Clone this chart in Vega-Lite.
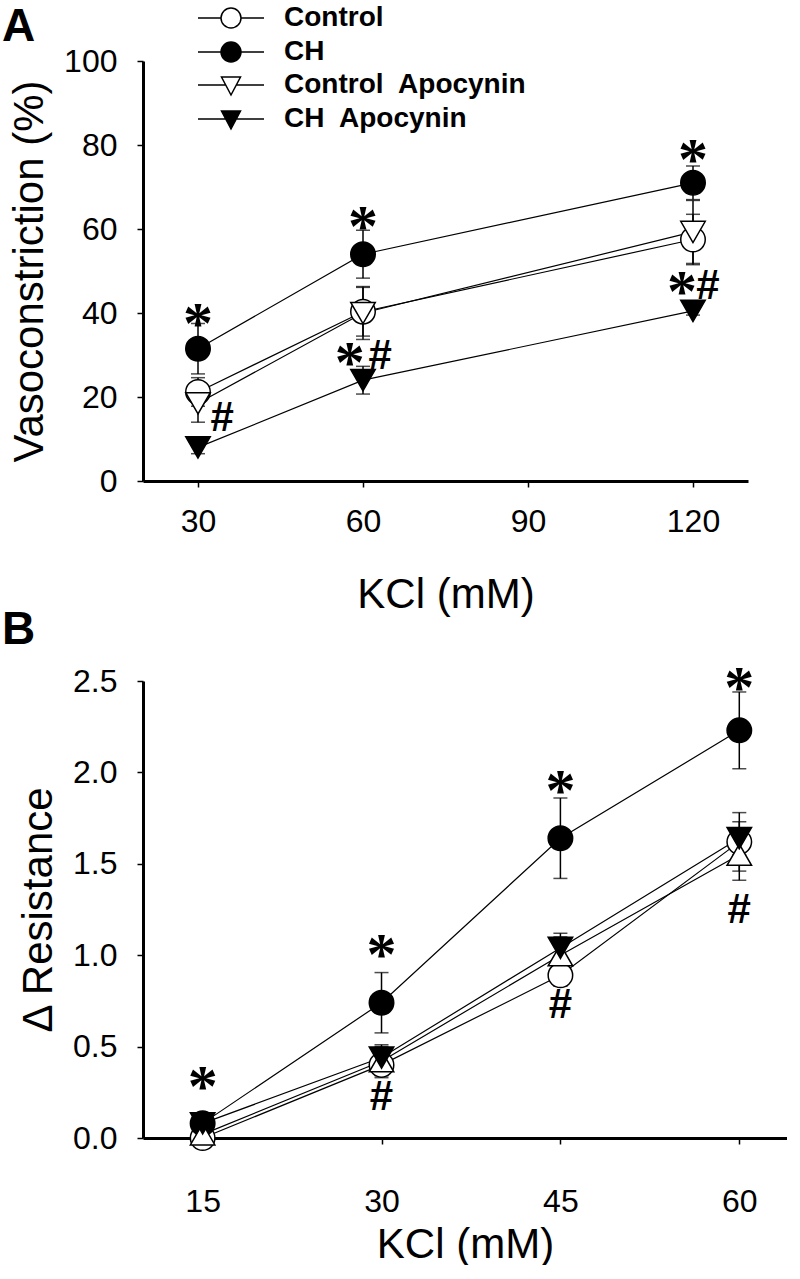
{
  "$schema": "https://vega.github.io/schema/vega-lite/v6.json",
  "background": "white",
  "padding": {"left": 2, "top": 4, "right": 0, "bottom": 0},
  "spacing": -8,
  "config": {
    "view": {"stroke": null},
    "font": "Liberation Sans",
    "axis": {
      "grid": false,
      "domainColor": "black",
      "domainWidth": 3,
      "tickColor": "black",
      "tickWidth": 1.5,
      "tickSize": 6,
      "labelFont": "Liberation Sans",
      "labelFontSize": 32,
      "labelColor": "black",
      "titleFont": "Liberation Sans",
      "titleFontSize": 42,
      "titleFontWeight": "normal",
      "titleColor": "black"
    },
    "legend": {
      "orient": "none", "title": null, "padding": 0,
      "labelFont": "Liberation Sans", "labelFontSize": 28, "labelFontWeight": "bold", "labelColor": "black", "labelLimit": 0,
      "symbolSize": 400, "symbolStrokeWidth": 1.5, "symbolStrokeColor": "black", "rowPadding": 6, "labelOffset": 39
    },
    "title": {"font": "Liberation Sans", "fontSize": 46, "fontWeight": "bold", "color": "black", "anchor": "start", "frame": "group"}
  },
  "datasets": {
    "a": [
      {"kcl": 30, "series": "Control", "v": 21.2, "se": 3.4},
      {"kcl": 60, "series": "Control", "v": 40.3, "se": 5.8},
      {"kcl": 120, "series": "Control", "v": 57.5, "se": 6.0},
      {"kcl": 30, "series": "CH", "v": 31.5, "se": 6.0},
      {"kcl": 60, "series": "CH", "v": 54.0, "se": 5.7},
      {"kcl": 120, "series": "CH", "v": 71.0, "se": 4.0},
      {"kcl": 30, "series": "Control Apocynin", "v": 18.5, "se": 4.5},
      {"kcl": 60, "series": "Control Apocynin", "v": 40.0, "se": 6.3},
      {"kcl": 120, "series": "Control Apocynin", "v": 59.3, "se": 7.5},
      {"kcl": 30, "series": "CH Apocynin", "v": 8.0, "se": 1.5},
      {"kcl": 60, "series": "CH Apocynin", "v": 24.0, "se": 3.3},
      {"kcl": 120, "series": "CH Apocynin", "v": 40.5, "se": 1.0}
    ],
    "b": [
      {"kcl": 15, "series": "Control", "v": 0.0, "se": 0.02},
      {"kcl": 30, "series": "Control", "v": 0.40, "se": 0.06},
      {"kcl": 45, "series": "Control", "v": 0.89, "se": 0.06},
      {"kcl": 60, "series": "Control", "v": 1.62, "se": 0.16},
      {"kcl": 15, "series": "CH", "v": 0.08, "se": 0.03},
      {"kcl": 30, "series": "CH", "v": 0.74, "se": 0.165},
      {"kcl": 45, "series": "CH", "v": 1.64, "se": 0.22},
      {"kcl": 60, "series": "CH", "v": 2.23, "se": 0.21},
      {"kcl": 15, "series": "Control Apocynin", "v": 0.02, "se": 0.02},
      {"kcl": 30, "series": "Control Apocynin", "v": 0.42, "se": 0.09},
      {"kcl": 45, "series": "Control Apocynin", "v": 1.0, "se": 0.1},
      {"kcl": 60, "series": "Control Apocynin", "v": 1.55, "se": 0.14},
      {"kcl": 15, "series": "CH Apocynin", "v": 0.08, "se": 0.03},
      {"kcl": 30, "series": "CH Apocynin", "v": 0.44, "se": 0.06},
      {"kcl": 45, "series": "CH Apocynin", "v": 1.04, "se": 0.08},
      {"kcl": 60, "series": "CH Apocynin", "v": 1.64, "se": 0.09}
    ],
    "starA": [
      {"kcl": 30, "v": 40, "sym": "*"},
      {"kcl": 60, "v": 63, "sym": "*"},
      {"kcl": 120, "v": 79, "sym": "*"},
      {"kcl": 57.6, "v": 30.7, "sym": "*"},
      {"kcl": 118, "v": 47.6, "sym": "*"}
    ],
    "hashA": [
      {"kcl": 34.4, "v": 15.5, "sym": "#"},
      {"kcl": 63.1, "v": 30.2, "sym": "#"},
      {"kcl": 122.7, "v": 46.9, "sym": "#"}
    ],
    "starB": [
      {"kcl": 15, "v": 0.34, "sym": "*"},
      {"kcl": 30, "v": 1.06, "sym": "*"},
      {"kcl": 45, "v": 1.96, "sym": "*"},
      {"kcl": 60, "v": 2.52, "sym": "*"}
    ],
    "hashB": [
      {"kcl": 30, "v": 0.235, "sym": "#"},
      {"kcl": 45, "v": 0.74, "sym": "#"},
      {"kcl": 60, "v": 1.26, "sym": "#"}
    ]
  },
  "vconcat": [
    {
      "width": 605,
      "height": 420,
      "title": {"text": "A", "dx": -141, "offset": -83, "baseline": "alphabetic"},
      "resolve": {"scale": {"fill": "independent"}, "legend": {"fill": "independent"}},
      "layer": [
        {
          "data": {"name": "a"},
          "mark": {"type": "errorbar", "ticks": {"size": 14, "thickness": 1.5, "color": "black"}, "thickness": 1.5, "color": "black"},
          "encoding": {
            "x": {"field": "kcl", "type": "quantitative", "scale": {"domain": [20, 130], "nice": false, "zero": false}, "axis": {"title": "KCl (mM)", "values": [30, 60, 90, 120], "labelPadding": 19, "titlePadding": 37}},
            "y": {"field": "v", "type": "quantitative", "scale": {"domain": [0, 100], "nice": false}, "axis": {"title": "Vasoconstriction (%)", "values": [0, 20, 40, 60, 80, 100], "labelPadding": 20, "titlePadding": 12}},
            "yError": {"field": "se"}
          }
        },
        {
          "data": {"name": "a"},
          "mark": {"type": "line", "color": "black", "strokeWidth": 1.2},
          "encoding": {
            "x": {"field": "kcl", "type": "quantitative"},
            "y": {"field": "v", "type": "quantitative"},
            "detail": {"field": "series"}
          }
        },
        {
          "data": {"name": "a"},
          "transform": [{"filter": "datum.series == 'Control' || datum.series == 'CH'"}],
          "mark": {"type": "point", "shape": "circle", "filled": true, "size": 600, "stroke": "black", "strokeWidth": 1.5, "opacity": 1},
          "encoding": {
            "x": {"field": "kcl", "type": "quantitative"},
            "y": {"field": "v", "type": "quantitative"},
            "fill": {
              "field": "series", "type": "nominal",
              "scale": {"domain": ["Control", "CH"], "range": ["white", "black"]},
              "legend": {
                "legendX": 74, "legendY": -57,
                "symbolType": "M-3.3,0H-1M1,0H3.3M1,0A1,1,0,1,1,-1,0A1,1,0,1,1,1,0"
              }
            }
          }
        },
        {
          "data": {"name": "a"},
          "transform": [{"filter": "datum.series == 'Control Apocynin' || datum.series == 'CH Apocynin'"}],
          "mark": {"type": "point", "shape": "triangle-down", "filled": true, "size": 600, "stroke": "black", "strokeWidth": 1.5, "opacity": 1},
          "encoding": {
            "x": {"field": "kcl", "type": "quantitative"},
            "y": {"field": "v", "type": "quantitative"},
            "fill": {
              "field": "series", "type": "nominal",
              "scale": {"domain": ["Control Apocynin", "CH Apocynin"], "range": ["white", "black"]},
              "legend": {
                "legendX": 74, "legendY": 10,
                "labelExpr": "replace(datum.label, ' Apocynin', '\u00a0 Apocynin')",
                "symbolType": "M-3.3,0H-0.53M0.53,0H3.3M-0.95,-0.8H0.95L0,1Z"
              }
            }
          }
        },
        {
          "data": {"name": "starA"},
          "mark": {"type": "text", "font": "Liberation Serif", "fontSize": 60, "fontWeight": "bold", "color": "black", "baseline": "alphabetic", "dy": 30},
          "encoding": {"x": {"field": "kcl", "type": "quantitative"}, "y": {"field": "v", "type": "quantitative"}, "text": {"field": "sym"}}
        },
        {
          "data": {"name": "hashA"},
          "mark": {"type": "text", "font": "Liberation Sans", "fontSize": 42, "fontWeight": "bold", "color": "black", "baseline": "alphabetic", "dy": 15},
          "encoding": {"x": {"field": "kcl", "type": "quantitative"}, "y": {"field": "v", "type": "quantitative"}, "text": {"field": "sym"}}
        }
      ]
    },
    {
      "width": 644,
      "height": 457,
      "title": {"text": "B", "dx": -141, "offset": -31, "baseline": "alphabetic"},
      "layer": [
        {
          "data": {"name": "b"},
          "mark": {"type": "errorbar", "ticks": {"size": 14, "thickness": 1.5, "color": "black"}, "thickness": 1.5, "color": "black"},
          "encoding": {
            "x": {"field": "kcl", "type": "quantitative", "scale": {"domain": [10, 64], "nice": false, "zero": false}, "axis": {"title": "KCl (mM)", "values": [15, 30, 45, 60], "labelPadding": 42, "titlePadding": 7}},
            "y": {"field": "v", "type": "quantitative", "scale": {"domain": [0, 2.5], "nice": false}, "axis": {"title": "Δ Resistance", "values": [0, 0.5, 1, 1.5, 2, 2.5], "format": ".1f", "labelPadding": 20, "titlePadding": 12}},
            "yError": {"field": "se"}
          }
        },
        {
          "data": {"name": "b"},
          "mark": {"type": "line", "color": "black", "strokeWidth": 1.2},
          "encoding": {
            "x": {"field": "kcl", "type": "quantitative"},
            "y": {"field": "v", "type": "quantitative"},
            "detail": {"field": "series"}
          }
        },
        {
          "data": {"name": "b"},
          "mark": {"type": "point", "filled": true, "size": 600, "stroke": "black", "strokeWidth": 1.5, "opacity": 1},
          "encoding": {
            "x": {"field": "kcl", "type": "quantitative"},
            "y": {"field": "v", "type": "quantitative"},
            "shape": {
              "condition": [
                {"test": "datum.series == 'Control' || datum.series == 'CH'", "value": "circle"},
                {"test": "datum.series == 'Control Apocynin'", "value": "triangle-up"}
              ],
              "value": "triangle-down"
            },
            "fill": {
              "condition": {"test": "datum.series == 'Control' || datum.series == 'Control Apocynin'", "value": "white"},
              "value": "black"
            }
          }
        },
        {
          "data": {"name": "starB"},
          "mark": {"type": "text", "font": "Liberation Serif", "fontSize": 60, "fontWeight": "bold", "color": "black", "baseline": "alphabetic", "dy": 30},
          "encoding": {"x": {"field": "kcl", "type": "quantitative"}, "y": {"field": "v", "type": "quantitative"}, "text": {"field": "sym"}}
        },
        {
          "data": {"name": "hashB"},
          "mark": {"type": "text", "font": "Liberation Sans", "fontSize": 42, "fontWeight": "bold", "color": "black", "baseline": "alphabetic", "dy": 15},
          "encoding": {"x": {"field": "kcl", "type": "quantitative"}, "y": {"field": "v", "type": "quantitative"}, "text": {"field": "sym"}}
        }
      ]
    }
  ]
}
